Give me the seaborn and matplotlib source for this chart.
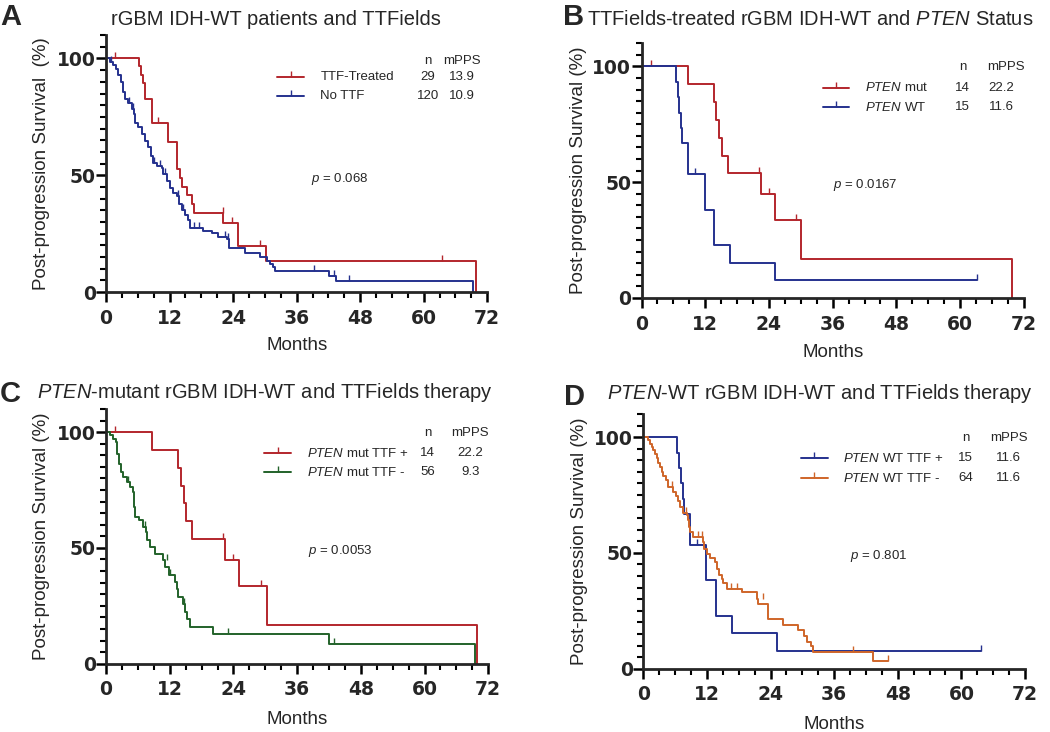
import matplotlib
matplotlib.use("Agg")
import matplotlib.pyplot as plt
import numpy as np
import seaborn as sns

# ---- colours
RED = "#B3262C"
BLUE = "#25318E"
GREEN = "#23622A"
ORANGE = "#CF6529"

# ---- panel A: TTF-treated vs no TTF (step times in months, survival in %)
a_ttf_t = [0, 6.2, 6.6, 7.0, 7.4, 8.6, 11.7, 13.4, 13.9, 14.3, 15.2, 16.2, 16.6, 22.1, 24.9, 30.2, 69.8]
a_ttf_s = [100, 96.6, 93.1, 89.7, 82.8, 72.4, 64.4, 52.6, 48.9, 45.1, 41.4, 37.6, 33.8, 29.6, 19.8, 13.2, 0]
a_ttf_cens_t = [1.7, 9.9, 22.0, 23.8, 29.0, 63.4]
a_ttf_cens_s = [100, 72.4, 33.8, 29.6, 19.8, 13.2]

a_no_t = [0, 0.8, 1.4, 1.9, 2.3, 2.8, 3.2, 3.6, 4.2, 4.9, 5.2, 5.5, 6.1, 6.7, 7.4, 8.0, 8.4, 8.8, 9.6, 10.5,
          10.8, 11.5, 12.1, 12.7, 13.4, 13.8, 14.3, 14.9, 15.4, 15.9, 18.4, 20.0, 21.2, 22.8, 23.2, 26.3,
          29.1, 30.4, 30.9, 31.5, 31.9, 42.2, 43.4, 69.3]
a_no_s = [100, 98.6, 97.1, 95.4, 92.8, 90.0, 85.7, 82.8, 80.9, 78.4, 76.3, 72.4, 70.5, 67.7, 64.8, 61.9, 58.3,
          55.2, 54.0, 53.0, 50.4, 47.5, 44.6, 42.5, 41.0, 37.5, 35.3, 33.2, 31.0, 27.4, 26.3, 25.2, 23.5,
          22.6, 18.8, 16.7, 15.0, 13.5, 12.0, 10.6, 9.1, 6.9, 4.9, 0]
a_no_cens_t = [1.0, 4.3, 5.0, 9.0, 10.2, 11.2, 13.6, 14.5, 16.7, 17.5, 22.4, 23.0, 39.2, 43.0, 45.8]
a_no_cens_s = [98.6, 80.9, 78.4, 55.2, 54.0, 50.4, 41.0, 35.3, 27.4, 27.4, 23.5, 22.6, 9.1, 6.9, 4.9]

a_labels = ["TTF-Treated", "No TTF"]
a_n = [29, 120]
a_mpps = [13.9, 10.9]
a_p = "0.068"

# ---- panel B: TTF-treated, PTEN mut vs PTEN WT
b_mut_t = [0, 8.8, 13.7, 14.1, 14.6, 15.2, 16.2, 22.5, 25.1, 30.1, 69.8]
b_mut_s = [100, 92.3, 84.6, 76.9, 69.2, 61.5, 53.8, 44.9, 33.7, 16.8, 0]
b_mut_cens_t = [1.7, 22.2, 24.0, 29.1]
b_mut_cens_s = [100, 53.8, 44.9, 33.7]

b_wt_t = [0, 6.4, 6.8, 7.1, 7.4, 7.6, 8.7, 11.9, 12.0, 13.7, 16.7, 25.1, 63.2]
b_wt_s = [100, 93.3, 86.7, 80.0, 73.3, 66.7, 53.3, 45.7, 38.1, 22.9, 15.2, 7.6, 7.6]
b_wt_cens_t = [10.1, 63.2]
b_wt_cens_s = [53.3, 7.6]

b_labels = ["$\\mathit{PTEN}$ mut", "$\\mathit{PTEN}$ WT"]
b_n = [14, 15]
b_mpps = [22.2, 11.6]
b_p = "0.0167"

# ---- panel C: PTEN-mutant, TTF + vs TTF -
c_pos_t = [0, 8.7, 13.6, 14.1, 14.6, 15.1, 16.2, 22.4, 25.1, 30.3, 69.9]
c_pos_s = [100, 92.3, 84.6, 76.9, 69.2, 61.5, 53.8, 44.9, 33.7, 16.8, 0]
c_pos_cens_t = [1.7, 22.1, 23.9, 29.2]
c_pos_cens_s = [100, 53.8, 44.9, 33.7]

c_neg_t = [0, 0.75, 1.4, 1.9, 2.1, 2.5, 2.8, 3.1, 3.9, 4.5, 5.0, 5.3, 5.5, 6.2, 7.0, 7.5, 7.8, 8.3, 9.2,
           10.7, 11.1, 11.8, 13.0, 13.3, 13.6, 14.5, 14.9, 15.3, 15.8, 20.2, 42.0, 69.5]
c_neg_s = [100, 98.6, 97.1, 95.7, 90.7, 86.4, 82.8, 80.6, 78.4, 76.3, 74.1, 67.6, 63.4, 61.9, 59.0, 56.9,
           53.3, 50.4, 47.5, 44.6, 41.7, 38.1, 35.2, 32.3, 28.7, 25.8, 22.2, 19.3, 15.8, 12.8, 8.4, 0]
c_neg_cens_t = [4.1, 7.3, 11.4, 12.1, 14.7, 23.0, 43.0]
c_neg_cens_s = [78.4, 59.0, 44.6, 38.1, 25.8, 12.8, 8.4]

c_labels = ["$\\mathit{PTEN}$ mut TTF +", "$\\mathit{PTEN}$ mut TTF -"]
c_n = [14, 56]
c_mpps = [22.2, 9.3]
c_p = "0.0053"

# ---- panel D: PTEN-WT, TTF + vs TTF -
d_pos_t = [0, 6.4, 6.7, 7.1, 7.5, 7.6, 8.8, 11.8, 11.9, 13.7, 16.7, 25.2, 63.7]
d_pos_s = [100, 93.3, 86.7, 80.0, 73.3, 66.7, 53.3, 45.7, 38.1, 22.9, 15.2, 7.6, 7.6]
d_pos_cens_t = [10.2, 63.7]
d_pos_cens_s = [53.3, 7.6]

d_neg_t = [0, 0.95, 1.26, 1.58, 1.89, 2.2, 2.52, 2.83, 3.15, 3.46, 3.65, 4.28, 4.6, 5.66, 6.1, 6.48, 6.92,
           7.42, 8.18, 8.5, 8.68, 8.81, 9.31, 11.2, 11.5, 11.95, 12.58, 13.5, 13.84, 14.3, 14.8, 15.1, 15.7,
           18.56, 21.4, 21.7, 23.5, 23.6, 26.3, 29.1, 30.3, 30.9, 31.6, 32.1, 43.4, 46.1]
d_neg_s = [100, 98.6, 97.1, 95.7, 94.3, 92.8, 90.9, 88.9, 87.0, 84.9, 83.2, 81.3, 78.4, 76.3, 74.4, 72.3,
           69.8, 67.4, 66.5, 64.1, 61.2, 59.0, 56.9, 54.8, 51.6, 49.7, 47.6, 46.1, 43.2, 40.4, 38.9, 36.8,
           34.6, 32.9, 30.3, 28.1, 24.5, 21.3, 18.7, 16.7, 14.1, 11.7, 9.6, 7.1, 3.3, 3.3]
d_neg_cens_t = [5.4, 8.0, 10.4, 11.0, 16.6, 17.6, 22.6, 39.5, 46.1]
d_neg_cens_s = [78.4, 67.4, 56.9, 56.9, 34.6, 34.6, 30.3, 7.1, 3.3]

d_labels = ["$\\mathit{PTEN}$ WT TTF +", "$\\mathit{PTEN}$ WT TTF -"]
d_n = [15, 64]
d_mpps = [11.6, 11.6]
d_p = "0.801"

x_ticks = [0, 12, 24, 36, 48, 60, 72]
y_ticks = [0, 50, 100]

sns.set_style("ticks")
plt.rcParams["font.family"] = ["Liberation Sans", "DejaVu Sans"]
plt.rcParams["mathtext.fontset"] = "custom"
plt.rcParams["mathtext.rm"] = "Liberation Sans"
plt.rcParams["mathtext.it"] = "Liberation Sans:italic"

LW = 1.4
LEG_FS = 9.5


def km_panel(ax, curves, labels, ns, mpps, pval, ylabel, lay):
    for t, s, ct, cs, col in curves:
        sns.lineplot(x=t, y=s, ax=ax, color=col, lw=LW, drawstyle="steps-post",
                     estimator=None, sort=False)
        ax.plot(ct, cs, ls="none", marker=2, ms=4.5, mew=1.0, color=col)

    ax.set_xlim(0, 72)
    ax.set_ylim(0, 110)
    ax.set_xticks(x_ticks)
    ax.set_xticks(np.arange(0, 73, 3), minor=True)
    ax.set_yticks(y_ticks)
    ax.set_yticks(np.arange(0, 111, 5), minor=True)
    ax.spines[["top", "right"]].set_visible(False)
    for side in ["left", "bottom"]:
        ax.spines[side].set_linewidth(2.0)
    ax.tick_params(which="major", length=7, width=1.8, labelsize=13.5, color="black")
    ax.tick_params(which="minor", length=4.5, width=1.5, color="black")
    ax.tick_params(axis="x", which="major", pad=5)
    ax.tick_params(axis="y", which="major", pad=0.5)
    plt.setp(ax.get_xticklabels() + ax.get_yticklabels(), fontweight="bold", family="DejaVu Sans")

    ax.set_xlabel("Months", fontsize=13.5)
    ax.set_ylabel(ylabel, fontsize=13.5)
    ax.xaxis.set_label_coords(0.5, lay["xlab_y"])
    ax.yaxis.set_label_coords(lay["ylab_x"], 0.5)

    # legend table: line sample, label, n, mPPS
    x0, x1, xl, xn, xmh, xmv = lay["leg_x"]
    yh, y1, y2 = lay["leg_y"]
    ax.text(xn, yh, "n", transform=ax.transAxes, ha="center", va="center", fontsize=LEG_FS)
    ax.text(xmh, yh, "mPPS", transform=ax.transAxes, ha="center", va="center", fontsize=LEG_FS)
    for y, lab, (_, _, _, _, col), n, m in zip([y1, y2], labels, curves, ns, mpps):
        ax.plot([x0, x1], [y, y], transform=ax.transAxes, color=col, lw=LW, clip_on=False)
        ax.plot([(x0 + x1) / 2], [y], transform=ax.transAxes, marker=2, ms=4.5, mew=1.0,
                color=col, clip_on=False)
        ax.text(xl, y, lab, transform=ax.transAxes, ha="left", va="center", fontsize=LEG_FS)
        ax.text(xn, y, str(n), transform=ax.transAxes, ha="center", va="center", fontsize=LEG_FS)
        ax.text(xmv, y, f"{m:.1f}", transform=ax.transAxes, ha="center", va="center", fontsize=LEG_FS)

    px, py = lay["p_xy"]
    ax.text(px, py, f"$p$ = {pval}", transform=ax.transAxes, ha="left", va="center", fontsize=LEG_FS)


fig = plt.figure(figsize=(10.5, 7.32), dpi=100)

panels = [
    dict(rect=[0.101, 0.601, 0.363, 0.351], letter="A", letter_xy=(0.0, 0.9658),
         title="rGBM IDH-WT patients and TTFields", title_xy=(0.1057, 0.9658),
         curves=[(a_ttf_t, a_ttf_s, a_ttf_cens_t, a_ttf_cens_s, RED),
                 (a_no_t, a_no_s, a_no_cens_t, a_no_cens_s, BLUE)],
         labels=a_labels, ns=a_n, mpps=a_mpps, p=a_p, ylabel="Post-progression Survival  (%)",
         lay=dict(leg_x=(0.449, 0.520, 0.562, 0.845, 0.935, 0.933), leg_y=(0.899, 0.837, 0.763),
                  p_xy=(0.538, 0.44), xlab_y=-0.175, ylab_x=-0.147)),
    dict(rect=[0.611, 0.593, 0.364, 0.348], letter="B", letter_xy=(0.536, 0.9658),
         title="TTFields-treated rGBM IDH-WT and $\\mathit{PTEN}$ Status", title_xy=(0.559, 0.9658),
         curves=[(b_mut_t, b_mut_s, b_mut_cens_t, b_mut_cens_s, RED),
                 (b_wt_t, b_wt_s, b_wt_cens_t, b_wt_cens_s, BLUE)],
         labels=b_labels, ns=b_n, mpps=b_mpps, p=b_p, ylabel="Post-progression Survival (%)",
         lay=dict(leg_x=(0.474, 0.542, 0.584, 0.840, 0.954, 0.942), leg_y=(0.905, 0.826, 0.748),
                  p_xy=(0.501, 0.442), xlab_y=-0.18, ylab_x=-0.143)),
    dict(rect=[0.101, 0.0933, 0.364, 0.348], letter="C", letter_xy=(0.0, 0.4508),
         title="$\\mathit{PTEN}$-mutant rGBM IDH-WT and TTFields therapy", title_xy=(0.0352, 0.4558),
         curves=[(c_pos_t, c_pos_s, c_pos_cens_t, c_pos_cens_s, RED),
                 (c_neg_t, c_neg_s, c_neg_cens_t, c_neg_cens_s, GREEN)],
         labels=c_labels, ns=c_n, mpps=c_mpps, p=c_p, ylabel="Post-progression Survival (%)",
         lay=dict(leg_x=(0.414, 0.484, 0.525, 0.842, 0.953, 0.953), leg_y=(0.906, 0.827, 0.752),
                  p_xy=(0.529, 0.442), xlab_y=-0.185, ylab_x=-0.147)),
    dict(rect=[0.6127, 0.0865, 0.3635, 0.348], letter="D", letter_xy=(0.537, 0.4463),
         title="$\\mathit{PTEN}$-WT rGBM IDH-WT and TTFields therapy", title_xy=(0.578, 0.4545),
         curves=[(d_pos_t, d_pos_s, d_pos_cens_t, d_pos_cens_s, BLUE),
                 (d_neg_t, d_neg_s, d_neg_cens_t, d_neg_cens_s, ORANGE)],
         labels=d_labels, ns=d_n, mpps=d_mpps, p=d_p, ylabel="Post-progression Survival (%)",
         lay=dict(leg_x=(0.413, 0.483, 0.524, 0.845, 0.957, 0.957), leg_y=(0.906, 0.827, 0.747),
                  p_xy=(0.542, 0.442), xlab_y=-0.185, ylab_x=-0.145)),
]

for pnl in panels:
    ax = fig.add_axes(pnl["rect"])
    km_panel(ax, pnl["curves"], pnl["labels"], pnl["ns"], pnl["mpps"], pnl["p"], pnl["ylabel"], pnl["lay"])
    fig.text(*pnl["letter_xy"], pnl["letter"], fontsize=21, fontweight="bold", ha="left", va="baseline")
    fig.text(*pnl["title_xy"], pnl["title"], fontsize=14.5, ha="left", va="baseline")

fig.savefig("out.png", dpi=100)
